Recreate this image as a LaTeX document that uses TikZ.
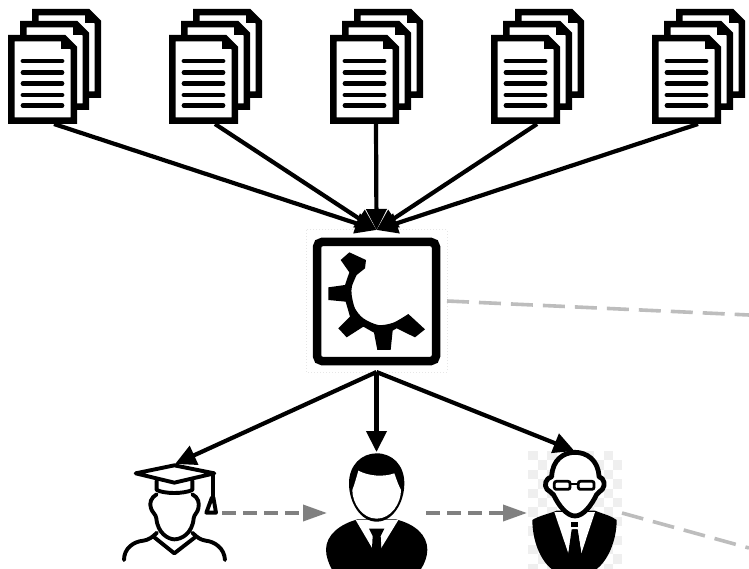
\documentclass[tikz,border=0pt]{standalone}
\usetikzlibrary{arrows.meta}
\definecolor{dashdark}{HTML}{808080}
\definecolor{dashlight}{HTML}{BDBDBD}
\definecolor{checker}{HTML}{EFEFEF}
\definecolor{faintline}{HTML}{E6E6E6}
\tikzset{
  iconbox/.style={inner sep=0pt,outer sep=0pt,draw=none},
  flow/.style={line width=4.2pt,black,-{Triangle[length=21pt,width=20pt]},shorten >=0pt},
  handoff/.style={line width=3.6pt,dashdark,dash pattern=on 14pt off 7pt,-{Triangle[length=24pt,width=16pt]}},
  outflow/.style={line width=3.6pt,dashlight,dash pattern=on 22pt off 10pt},
  ink/.style={line width=3.9pt,black,line join=round,line cap=round,fill=none},
  zoomed/.style={scale=1/3}
}
\newcommand{\docpage}[2]{%
  \draw[line width=6.5pt,black,fill=white,miter limit=10]
    (#1+3.25,#2+3.25) -- (#1+56,#2+3.25) -- (#1+65.75,#2+13) -- (#1+65.75,#2+85.75) -- (#1+3.25,#2+85.75) -- cycle;
  \fill[black] (#1+53,#2+2) -- (#1+68,#2+14) -- (#1+53,#2+14) -- cycle;
}
\newcommand{\docstack}[1]{%
  \docpage{#1+24}{9}
  \docpage{#1+12}{21}
  \docpage{#1}{35}
  \foreach \ly in {61,72.5,83.5,95,105.5}
    \draw[line width=4.8pt,black,line cap=round] (#1+15,\ly) -- (#1+54,\ly);
}
\begin{document}
\begin{tikzpicture}[x=1pt,y=-1pt]
\useasboundingbox (0,0) rectangle (749,569);
\fill[white] (0,0) rectangle (749,569);

% document stacks
\foreach \i/\ox in {1/8,2/169,3/330,4/491,5/652}{
  \docstack{\ox}
  \node[iconbox,minimum width=92pt,minimum height=115pt] (d\i) at (\ox+46,66.5) {};
}

% hub
\node[iconbox,minimum width=141pt,minimum height=142pt] (hub) at (376.5,301) {};
\draw[faintline,line width=1pt,dotted] (hub.north west) rectangle (hub.south east);
\draw[line width=8.5pt,black,rounded corners=5pt,fill=white] (317,242) rectangle (436,361);
\begin{scope}[shift={(300,200)},zoomed]
  \fill[black] (148,157) -- (198,180) -- (195,205) -- (170,225)
    -- plot[smooth] coordinates {(170,225) (156,258) (155,285) (165,325) (190,355) (235,375) (280,368) (325,342)}
    -- (375,388) -- (345,412) -- (290,385) -- (278,392) -- (272,450) -- (232,450) -- (222,398) -- (190,380)
    -- (140,412) -- (115,385) -- (150,350) -- (137,305) -- (85,300) -- (85,262) -- (135,255) -- (148,217) -- (122,180) -- cycle;
\end{scope}

% student
\node[iconbox,minimum width=94pt,minimum height=98pt] (stu) at (175,513) {};
\begin{scope}[shift={(115,440)},zoomed]
  \draw[ink] (125,122) -- (125,150) .. controls (150,162) and (205,162) .. (232,150) -- (232,122);
  \draw[ink,fill=white] (62,100) -- (178,76) -- (298,100) -- (178,128) -- cycle;
  \draw[ink] (293,105) -- (293,175);
  \draw[ink] (291,172) -- (274,218) -- (303,218) -- (295,172);
  \draw[ink] (125,163) .. controls (108,172) and (102,190) .. (108,205) .. controls (112,218) and (122,222) .. (124,235)
     .. controls (128,280) and (160,298) .. (178,298) .. controls (200,298) and (232,280) .. (236,235)
     .. controls (238,222) and (248,218) .. (250,205) .. controls (254,190) and (250,172) .. (232,163);
  \draw[ink] (27,360) .. controls (27,325) and (55,305) .. (85,302) .. controls (100,300) and (112,292) .. (126,278);
  \draw[ink] (330,360) .. controls (328,325) and (300,305) .. (272,302) .. controls (258,300) and (245,292) .. (232,278);
  \draw[ink] (118,292) -- (178,340) -- (240,292);
\end{scope}

% manager
\node[iconbox,minimum width=99pt,minimum height=122pt] (mgr) at (376.5,513) {};
\begin{scope}[shift={(315,440)},zoomed]
  \fill[black] (33,329) .. controls (33,285) and (75,252) .. (128,238) -- (242,238)
     .. controls (300,252) and (337,285) .. (337,329) .. controls (337,350) and (328,372) .. (318,387) -- (50,387) .. controls (42,372) and (33,350) .. (33,329) -- cycle;
  \fill[white] (122,240) -- (172,325) -- (198,325) -- (250,240) -- cycle;
  \fill[black] (162,266) -- (208,266) -- (197,288) -- (199,325) -- (185,340) -- (171,325) -- (173,288) -- cycle;
  \fill[black] (102,130) .. controls (102,75) and (140,40) .. (185,40) .. controls (232,40) and (268,75) .. (268,130) .. controls (268,190) and (232,245) .. (185,245) .. controls (138,245) and (102,190) .. (102,130) -- cycle;
  \fill[white] (112,150) .. controls (118,135) and (125,110) .. (130,92) .. controls (160,108) and (205,112) .. (238,100)
     .. controls (245,120) and (250,135) .. (258,150) .. controls (258,190) and (228,236) .. (185,236) .. controls (142,236) and (112,190) .. (112,150) -- cycle;
\end{scope}

% professor
\node[iconbox,minimum width=95pt,minimum height=124pt] (prof) at (574.5,513) {};
\begin{scope}[shift={(515,440)},zoomed]
  \foreach \c in {0,...,9}{
    \foreach \r in {0,...,12}{
      \pgfmathtruncatemacro{\cpar}{mod(\c+\r,2)}
      \ifnum\cpar=0
        \fill[checker] (40+\c*28.2,33+\r*28.2) rectangle (40+\c*28.2+28.2,{min(387,33+\r*28.2+28.2)});
      \fi
    }
  }
  \fill[black] (52,240) .. controls (70,228) and (100,222) .. (125,212) -- (240,212) .. controls (265,222) and (290,228) .. (305,240)
     .. controls (305,300) and (280,360) .. (245,387) -- (110,387) .. controls (75,360) and (52,300) .. (52,240) -- cycle;
  \fill[white] (118,216) -- (160,340) -- (172,268) -- (187,268) -- (199,340) -- (240,216) -- cycle;
  \fill[black] (168,246) rectangle (190,260);
  \fill[black] (170,268) -- (188,268) -- (199,340) -- (180,372) -- (160,340) -- cycle;
  \draw[line width=4.8pt,black,fill=white,line join=round]
    (110,110) .. controls (112,60) and (145,37) .. (180,37) .. controls (215,37) and (250,60) .. (252,110)
    .. controls (268,115) and (272,135) .. (262,148) .. controls (255,155) and (248,158) .. (244,165)
    .. controls (230,195) and (205,228) .. (180,228) .. controls (155,228) and (130,195) .. (116,165)
    .. controls (112,158) and (103,155) .. (96,148) .. controls (86,135) and (92,115) .. (110,110) -- cycle;
  \draw[line width=2.8pt,black,fill=white,rounded corners=2pt] (118,124) rectangle (165,148);
  \draw[line width=2.8pt,black,fill=white,rounded corners=2pt] (190,124) rectangle (237,148);
  \draw[line width=2.8pt,black] (165,132) -- (190,132);
\end{scope}

% connectors
\foreach \i in {1,...,5}
  \draw[flow] (d\i.south) -- (hub.north);
\draw[flow] (hub.south) -- (stu.north);
\draw[flow] (hub.south) -- (mgr.north);
\draw[flow] (hub.south) -- (prof.north);
\draw[handoff] (stu.east) -- (mgr.west);
\draw[handoff] (mgr.east) -- (prof.west);
\coordinate (exitA) at (749,315);
\coordinate (exitB) at (749,548);
\draw[outflow] (hub.east) -- (exitA);
\draw[outflow] (prof.east) -- (exitB);
\end{tikzpicture}
\end{document}
